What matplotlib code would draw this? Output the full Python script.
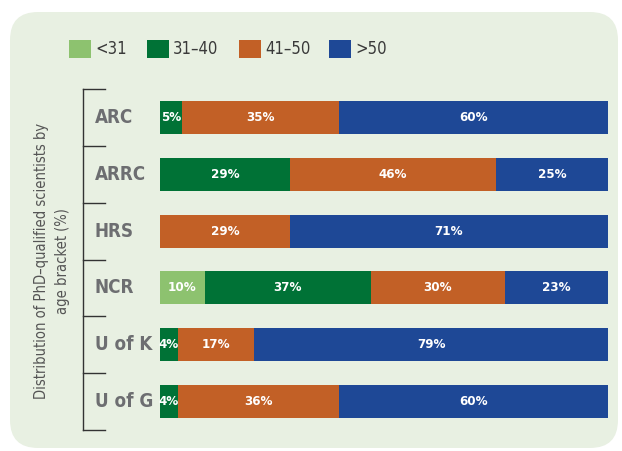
import matplotlib.pyplot as plt
from matplotlib.patches import FancyBboxPatch, Rectangle

# data
sites = ["ARC", "ARRC", "HRS", "NCR", "U of K", "U of G"]
brackets = ["<31", "31\u201340", "41\u201350", ">50"]
under31 = [0, 0, 0, 10, 0, 0]
age31_40 = [5, 29, 0, 37, 4, 4]
age41_50 = [35, 46, 29, 30, 17, 36]
over50 = [60, 25, 71, 23, 79, 60]

colors = ["#8DC26F", "#007236", "#C26026", "#1E4896"]
bg = "#E8F0E2"
label_grey = "#6D6E71"

plt.rcParams["font.family"] = ["Liberation Sans Narrow", "DejaVu Sans"]
plt.rcParams["font.stretch"] = "condensed"

W, H = 622, 451
fig = plt.figure(figsize=(W / 100, H / 100), dpi=100)
fig.patch.set_facecolor("white")

# rounded background panel
panel = FancyBboxPatch((10 / W, 1 - 448 / H), 608 / W, 436 / H,
                       boxstyle="round,pad=0,rounding_size=0.045",
                       transform=fig.transFigure, facecolor=bg,
                       edgecolor="none", mutation_aspect=W / H, zorder=-5)
fig.patches.append(panel)

# bar axes
left, right, top, bottom = 160, 608, 89, 430
ax = fig.add_axes([left / W, 1 - bottom / H, (right - left) / W, (bottom - top) / H])
ax.set_facecolor("none")
ax.set_xlim(0, 100)
ax.set_ylim(len(sites) - 0.5, -0.5)
for s in ax.spines.values():
    s.set_visible(False)
ax.set_xticks([])
ax.set_yticks([])

series = [under31, age31_40, age41_50, over50]
ypos = range(len(sites))
start = [0] * len(sites)
for vals, c in zip(series, colors):
    ax.barh(ypos, vals, left=start, height=0.58, color=c, edgecolor="none")
    for i, v in enumerate(vals):
        if v > 0:
            ax.text(start[i] + v / 2, i, f"{v}%", ha="center", va="center",
                    color="white", fontsize=9.5, fontweight="bold")
    start = [a + b for a, b in zip(start, vals)]

# bracket with category labels
bx = (83 - left) / (right - left)
tx = (105 - left) / (right - left)
ax.plot([bx, bx], [0, 1], color="#333333", lw=1, transform=ax.transAxes, clip_on=False)
for k in range(len(sites) + 1):
    yy = 1 - k / len(sites)
    ax.plot([bx, tx], [yy, yy], color="#333333", lw=1, transform=ax.transAxes, clip_on=False)
lx = (95 - left) / (right - left)
for i, name in enumerate(sites):
    ax.text(lx, i, name, transform=ax.get_yaxis_transform(), ha="left", va="center",
            fontsize=13.5, fontweight="bold", color=label_grey)

# y label
fig.text(52 / W, 1 - 261 / H, "Distribution of PhD\u2013qualified scientists by\nage bracket (%)",
         rotation=90, ha="center", va="center", fontsize=10.5, color="#555555",
         linespacing=1.45, multialignment="center")

# legend
leg_x = [69, 147, 239, 329]
for x0, lab, c in zip(leg_x, brackets, colors):
    fig.patches.append(Rectangle((x0 / W, 1 - 58 / H), 22 / W, 18 / H,
                                 transform=fig.transFigure, facecolor=c, edgecolor="none"))
    fig.text((x0 + 26) / W, 1 - 49 / H, lab, ha="left", va="center",
             fontsize=12, color="#3a3a3a")

fig.savefig("out.png", dpi=100, facecolor="white")
